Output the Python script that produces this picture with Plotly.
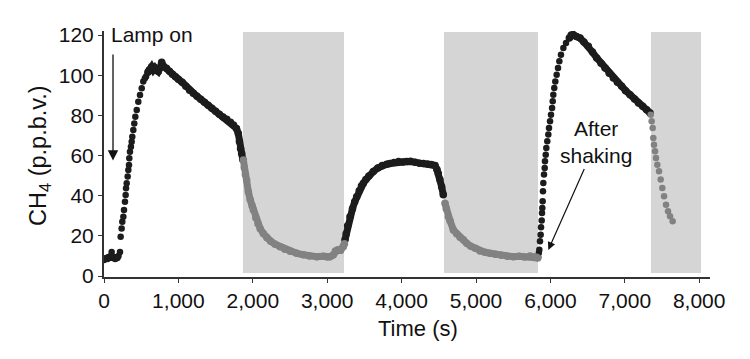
import plotly.graph_objects as go

# ---------------- data ----------------
# lamp on, first period: baseline + rise (individual dots)
on1_t = [0, 15, 30, 45, 60, 75, 90, 103, 120, 135, 150, 165, 180, 195, 215,
         224, 237, 246, 260, 269, 282, 291, 296, 305, 318, 327, 336, 340, 349,
         362, 372, 380, 394, 407, 421, 440, 461, 484, 507, 528, 550, 565, 590]
on1_v = [8, 8.5, 9, 8.5, 9.5, 9, 10, 12, 9, 9.5, 8.5, 9.5, 9, 10, 12,
         19.6, 23.7, 27, 29.5, 32.9, 37, 40.3, 43.7, 46.2, 49.5, 52.8, 55.3, 58.6, 61.9,
         64.4, 66.9, 69.4, 72.7, 76, 79.3, 82.7, 86.8, 90.1, 93.5, 96.8, 98.5, 99.3, 101.5]
# lamp on, first period: peak and slow decline (dense)
on1b_t = [590, 608, 640, 663, 685, 710, 730, 760, 775, 800, 840, 880, 920, 960, 1000,
          1050, 1100, 1150, 1200, 1250, 1300, 1350, 1400, 1450, 1500, 1550, 1600,
          1650, 1700, 1740, 1780, 1805, 1820, 1835, 1850, 1865]
on1b_v = [101.5, 102.6, 104.2, 102.6, 103.7, 102.5, 101.8, 104, 106.5, 104.5, 103.4, 102,
          100.5, 99.2, 98, 96.5, 94.5, 92.5, 91, 89.5, 88, 86.5, 85, 83.5, 82, 80.5,
          79.2, 78, 76.5, 75.2, 73.5, 71, 67, 63.5, 61, 58]
# lamp off, first period
off1_t = [1873, 1885, 1900, 1917, 1940, 1965, 1990, 2007, 2040, 2070, 2100, 2141, 2190,
          2240, 2300, 2366, 2430, 2500, 2590, 2680, 2760, 2859, 2950, 3000, 3038,
          3080, 3110, 3140, 3180, 3216, 3232]
off1_v = [57.8, 54, 50.5, 47.8, 42, 38, 35, 32.9, 29, 26, 23.5, 21.2, 19, 17.3, 15.8,
          14.6, 13.3, 12.3, 11.3, 10.6, 10, 9.6, 9.8, 9.5, 9.6, 10.5, 12.5, 13, 12.8,
          14.6, 16]
# lamp on, second period
on2_t = [3239, 3255, 3275, 3306, 3340, 3370, 3396, 3430, 3460, 3486, 3520, 3560, 3620,
         3680, 3740, 3800, 3844, 3900, 3960, 4020, 4068, 4120, 4180, 4240, 4292, 4350,
         4400, 4449, 4475, 4493, 4515, 4538, 4560]
on2_v = [18, 21, 25, 29.5, 33.5, 37, 39.5, 42.5, 44.8, 46.2, 48, 49.8, 52, 53.8, 55,
         55.6, 56, 56.5, 57, 56.8, 57, 57.2, 56.7, 56.2, 56, 55.8, 55.5, 55, 53, 51,
         48, 44.5, 40.5]
# lamp off, second period
off2_t = [4583, 4600, 4628, 4651, 4696, 4740, 4785, 4830, 4875, 4930, 4990, 5054, 5120,
          5188, 5260, 5340, 5420, 5502, 5580, 5650, 5726, 5780, 5815, 5830]
off2_v = [36.2, 33.5, 29.5, 27.5, 22.9, 21, 19.3, 18, 16.3, 14.8, 13.8, 12.5, 11.8,
          11.3, 10.8, 10.3, 9.8, 9.6, 9.8, 9.5, 10, 9.6, 9.3, 9]
# lamp on, third period (after shaking): rise (individual dots)
on3_t = [5837, 5845, 5851, 5860, 5869, 5874, 5883, 5887, 5891, 5896, 5900, 5905, 5914,
         5923, 5927, 5937, 5945, 5958, 5972, 5981, 5995, 6008, 6022, 6031, 6039, 6052,
         6066, 6084, 6102, 6120, 6142, 6174, 6210, 6254]
on3_v = [9.5, 11.5, 13.1, 17.3, 20.6, 24.3, 27.6, 31.4, 33.9, 37.2, 42.2, 46.3, 50.5,
         53.8, 57.1, 60.4, 63.7, 67.1, 70.4, 73.7, 77, 80.3, 83.7, 87, 90.3, 93.6,
         96.9, 100.2, 103.6, 106.9, 110.2, 113.5, 116, 118.5]
# lamp on, third period: peak and decline (dense)
on3b_t = [6254, 6280, 6308, 6350, 6398, 6450, 6510, 6565, 6622, 6680, 6734, 6790, 6846,
          6900, 6958, 7010, 7070, 7130, 7184, 7240, 7293, 7339]
on3b_v = [118.5, 120, 120.2, 119.2, 118.5, 116.5, 114.4, 111.5, 108.6, 106, 103.6, 101,
          98.6, 96.5, 94.5, 92.3, 90.3, 88.2, 86.2, 84.5, 82.8, 81.2]
# lamp off, third period
off3_t = [7348, 7361, 7375, 7383, 7392, 7406, 7419, 7437, 7460, 7482, 7504, 7527, 7554,
          7581, 7608, 7643]
off3_v = [80.3, 77, 73.7, 68.7, 65.4, 62.1, 58.8, 55.4, 52.1, 48, 43.8, 39.7, 35.5,
          32.2, 29.7, 27.2]

# lamp-off intervals (shaded), in seconds
off_start = [1868, 4570, 7352]
off_end = [3226, 5833, 8024]
shade_low, shade_high = 1.5, 121.5

x_ticks = [0, 1000, 2000, 3000, 4000, 5000, 6000, 7000, 8000]
x_tick_labels = ["0", "1,000", "2,000", "3,000", "4,000", "5,000", "6,000", "7,000", "8,000"]
y_ticks = [0, 20, 40, 60, 80, 100, 120]

# ---------------- style ----------------
BLACK = "#1c1c1c"
GRAY = "#828282"
SHADE = "#d5d5d5"
TXT = "#111111"
FONT = "Liberation Sans, Arial, Helvetica, sans-serif"
FS = 21
MS = 6.5
LW = 7

fig = go.Figure()


def dots(t, v, color):
    fig.add_trace(go.Scatter(x=t, y=v, mode="markers",
                             marker=dict(size=MS, color=color, line=dict(width=0)),
                             hoverinfo="skip"))


def band(t, v, color):
    fig.add_trace(go.Scatter(x=t, y=v, mode="lines+markers",
                             line=dict(color=color, width=LW),
                             marker=dict(size=LW + 0.5, color=color, line=dict(width=0)),
                             hoverinfo="skip"))


dots(on1_t, on1_v, BLACK)
band(on1b_t, on1b_v, BLACK)
band(on2_t, on2_v, BLACK)
dots(on3_t, on3_v, BLACK)
band(on3b_t, on3b_v, BLACK)
band(off1_t, off1_v, GRAY)
band(off2_t, off2_v, GRAY)
dots(off3_t, off3_v, GRAY)

for s, e in zip(off_start, off_end):
    fig.add_shape(type="rect", xref="x", yref="y", x0=s, x1=e, y0=shade_low, y1=shade_high,
                  fillcolor=SHADE, line=dict(width=0), layer="below")

# annotations
fig.add_annotation(x=121, y=57.5, ax=121, ay=111, xref="x", yref="y", axref="x", ayref="y",
                   text="", showarrow=True, arrowhead=2, arrowsize=1.6, arrowwidth=1.3,
                   arrowcolor=TXT)
fig.add_annotation(x=70, y=120.5, xref="x", yref="y", text="Lamp on", showarrow=False,
                   xanchor="left", yanchor="middle", font=dict(size=FS, color=TXT))
fig.add_annotation(x=5972, y=13, ax=6613, ay=66.5, xref="x", yref="y", axref="x", ayref="y",
                   text="After<br>shaking", showarrow=True, arrowhead=2, arrowsize=1.3,
                   arrowwidth=1.2, arrowcolor=TXT, standoff=0,
                   font=dict(size=FS, color=TXT))

# axis titles placed as annotations relative to the plot area
fig.add_annotation(xref="paper", yref="paper", x=0.518, y=0, yshift=-51,
                   text="Time (s)", showarrow=False, xanchor="center", yanchor="middle",
                   font=dict(size=22, color=TXT))
fig.add_annotation(xref="paper", yref="paper", x=0, y=0.492, xshift=-64,
                   text="CH<sub>4</sub> (p.p.b.v.)", showarrow=False, textangle=-90,
                   xanchor="center", yanchor="middle", font=dict(size=23.5, color=TXT))

# the page body adds an 8 px offset, so the figure is 8 px smaller and margins shifted
fig.update_layout(
    width=742, height=351,
    margin=dict(l=96, r=40, t=23, b=82),
    paper_bgcolor="white", plot_bgcolor="white",
    showlegend=False,
    font=dict(family=FONT, size=FS, color=TXT),
    xaxis=dict(range=[0, 8145], tickvals=x_ticks, ticktext=x_tick_labels,
               showgrid=False, zeroline=False, showline=True, linecolor="#333333",
               linewidth=2, ticks="outside", ticklen=4, tickwidth=1.3, tickcolor="#333333",
               automargin=False, tickfont=dict(size=FS)),
    yaxis=dict(range=[-0.5, 122], tickvals=y_ticks,
               showgrid=False, zeroline=False, showline=True, linecolor="#333333",
               linewidth=2, ticks="outside", ticklen=4, tickwidth=1.3, tickcolor="#333333",
               automargin=False, tickfont=dict(size=FS)),
)

fig.write_html("out.html")
